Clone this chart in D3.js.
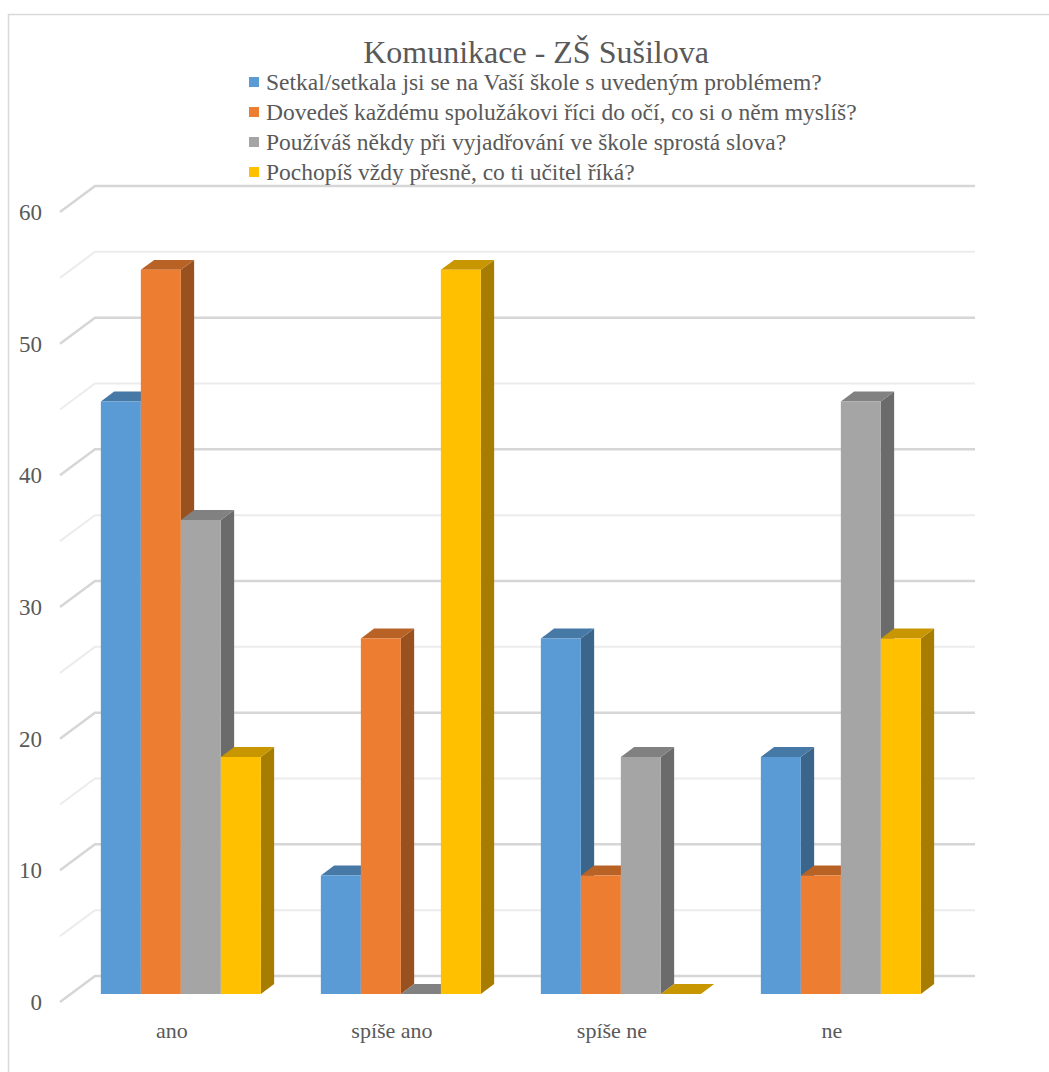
<!DOCTYPE html>
<html>
<head>
<meta charset="utf-8">
<script src="https://cdn.jsdelivr.net/npm/d3@7.9.0/dist/d3.min.js"></script>
<style>
  body { margin: 0; background: #fff; }
</style>
</head>
<body>
<svg id="chart" width="1049" height="1072"></svg>
<script>
// data
const categories = ['ano', 'spíše ano', 'spíše ne', 'ne'];
const seriesNames = [
  'Setkal/setkala jsi se na Vaší škole s uvedeným problémem?',
  'Dovedeš každému spolužákovi říci do očí, co si o něm myslíš?',
  'Používáš někdy při vyjadřování ve škole sprostá slova?',
  'Pochopíš vždy přesně, co ti učitel říká?'
];
const setkal = [45, 9, 27, 18];
const dovedes = [55, 27, 9, 9];
const pouzivas = [36, 0, 18, 45];
const pochopis = [18, 55, 0, 27];
const seriesValues = [setkal, dovedes, pouzivas, pochopis];
const colorList = ['#5B9BD5', '#ED7D31', '#A5A5A5', '#FFC000'];
const yTicks = [0, 10, 20, 30, 40, 50, 60];

const FONT = '"Liberation Serif", "DejaVu Serif", "Noto Serif", "Times New Roman", Times, "Nimbus Roman", FreeSerif, serif';
const TXT = '#595959';

const svg = d3.select('#chart');

// chart border
svg.append('rect')
  .attr('x', 8.5).attr('y', 14.5)
  .attr('width', 1100).attr('height', 1100)
  .attr('fill', 'none').attr('stroke', '#d9d9d9').attr('stroke-width', 1.5);

// 3d-ish projection: depth z in [0,1] shifts right and up
const depthX = 35, depthY = -26;
const proj = (x, y, z) => [x + depthX * z, y + depthY * z];

const x0 = d3.scaleBand().domain(categories).range([60, 940]).paddingInner(60 / 220).paddingOuter(30 / 220);
const x1 = d3.scaleBand().domain(d3.range(seriesNames.length)).range([0, x0.bandwidth()]);
const y = d3.scaleLinear().domain([0, 60]).range([1002, 212]);

// gridlines: side wall + back wall, every 5
const grid = svg.append('g');
d3.range(0, 61, 5).forEach(v => {
  const major = v % 10 === 0;
  const a = proj(60, y(v), 0), b = proj(60, y(v), 1), c = proj(940, y(v), 1);
  grid.append('path')
    .attr('d', d3.line()([a, b, c]))
    .attr('fill', 'none')
    .attr('stroke', major ? '#d6d6d6' : '#ececec')
    .attr('stroke-width', major ? 2.5 : 2);
});

// y labels
svg.append('g').selectAll('text').data(yTicks).join('text')
  .attr('x', 42).attr('y', d => y(d)).attr('dy', '0.35em')
  .attr('text-anchor', 'end')
  .attr('font-family', FONT).attr('fill', TXT)
  .style('font-size', '23px')
  .text(d => d);

// bars
const zf = 0.31, zb = 0.69;
const line = d3.line();
const bars = svg.append('g');
categories.forEach((cat, ci) => {
  seriesValues.forEach((vals, si) => {
    const v = vals[ci];
    const base = d3.color(colorList[si]);
    const side = d3.rgb(base.r * 0.65, base.g * 0.65, base.b * 0.65);
    const top = d3.rgb(base.r * 0.78, base.g * 0.78, base.b * 0.78);
    const xl = x0(cat) + x1(si), xr = xl + x1.bandwidth();
    const yt = y(v), yb = y(0);
    const g = bars.append('g');
    // right side face
    g.append('path')
      .attr('d', line([proj(xr, yt, zf), proj(xr, yt, zb), proj(xr, yb, zb), proj(xr, yb, zf)]) + 'Z')
      .attr('fill', side);
    // top face
    g.append('path')
      .attr('d', line([proj(xl, yt, zf), proj(xr, yt, zf), proj(xr, yt, zb), proj(xl, yt, zb)]) + 'Z')
      .attr('fill', top);
    // front face
    if (v > 0) {
      g.append('path')
        .attr('d', line([proj(xl, yt, zf), proj(xr, yt, zf), proj(xr, yb, zf), proj(xl, yb, zf)]) + 'Z')
        .attr('fill', base);
    }
  });
});

// category labels
svg.append('g').selectAll('text').data(categories).join('text')
  .attr('x', d => x0(d) + x0.bandwidth() / 2 + 2)
  .attr('y', 1038)
  .attr('text-anchor', 'middle')
  .attr('font-family', FONT).attr('fill', TXT)
  .style('font-size', '22px')
  .text(d => d);

// title
svg.append('text')
  .attr('x', 536).attr('y', 63)
  .attr('text-anchor', 'middle')
  .attr('font-family', FONT).attr('fill', TXT)
  .style('font-size', '32px')
  .text('Komunikace - ZŠ Sušilova');

// legend
const legend = svg.append('g');
seriesNames.forEach((name, i) => {
  const yy = 82 + i * 30;
  legend.append('rect')
    .attr('x', 249).attr('y', yy - 5).attr('width', 10).attr('height', 10)
    .attr('fill', colorList[i]);
  legend.append('text')
    .attr('x', 266).attr('y', yy).attr('dy', '0.35em')
    .attr('font-family', FONT).attr('fill', TXT)
    .style('font-size', '23.5px')
    .text(name);
});
</script>
</body>
</html>
